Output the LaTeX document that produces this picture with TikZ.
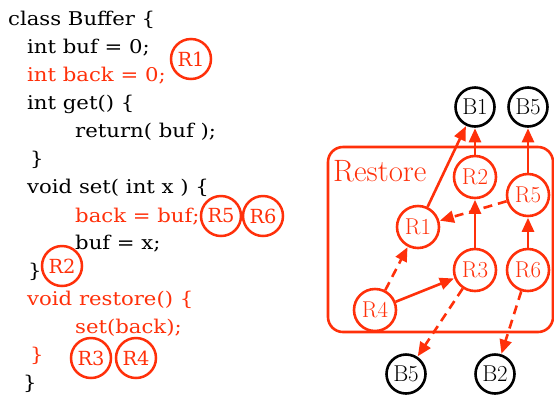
\documentclass[tikz,border=0pt]{standalone}
\usepackage{fontspec}
\usetikzlibrary{arrows.meta}
\newfontfamily\codefont[FakeStretch=1.12]{DejaVu Serif}
\newfontfamily\tagfont{DejaVu Serif}
\definecolor{hot}{RGB}{255,48,10}
\tikzset{
  code/.style={anchor=base west, inner sep=0pt, font=\codefont\fontsize{19}{22}\selectfont},
  hotcode/.style={code, text=hot},
  tag/.style={circle, draw=hot, text=hot, line width=2.5bp, minimum size=40bp, inner sep=0pt,
              font=\tagfont\fontsize{19.5}{22}\selectfont},
  rnode/.style={circle, draw=hot, text=hot, line width=2.6bp, minimum size=42bp, inner sep=0pt,
              font=\fontsize{23}{25}\selectfont},
  bnode/.style={circle, draw=black, line width=2.6bp, minimum size=39bp, inner sep=0pt,
              font=\fontsize{23}{25}\selectfont},
  dep/.style={draw=hot, line width=2.6bp, -{Triangle[length=14bp,width=12bp]}, shorten >=0.5bp},
  weak/.style={dep, dash pattern=on 9bp off 6bp},
}
\begin{document}
\begin{tikzpicture}[x=1bp, y=-1bp]
\useasboundingbox (0,0) rectangle (554,399);

% source listing
\node[code]    (l1)  at (8,25)   {class Buffer \{};
\node[code]    (l2)  at (27,53)  {int buf = 0;};
\node[hotcode] (l3)  at (27,81)  {int back = 0;};
\node[code]    (l4)  at (27,109) {int get() \{};
\node[code]    (l5)  at (75,137) {return( buf );};
\node[code]    (l6)  at (30,165) {\}};
\node[code]    (l7)  at (27,193) {void set( int x ) \{};
\node[hotcode] (l8)  at (75,222) {back = buf;};
\node[code]    (l9)  at (75,249) {buf = x;};
\node[code]    (l10) at (28,277) {\}};
\node[hotcode] (l11) at (27,305) {void restore() \{};
\node[hotcode] (l12) at (75,333) {set(back);};
\node[hotcode] (l13) at (30,361) {\}};
\node[code]    (l14) at (23,389) {\}};

% region tags in the listing
\node[tag] (cR1) at (191,59)  {R1};
\node[tag] (cR5) at (221,216) {R5};
\node[tag] (cR6) at (263,216) {R6};
\node[tag] (cR2) at (62,266)  {R2};
\node[tag] (cR3) at (91,358)  {R3};
\node[tag] (cR4) at (136,358) {R4};

% region graph
\draw[hot, line width=2.6bp, rounded corners=15bp] (328,147) rectangle (553,332);
\node[anchor=base west, inner sep=0pt, text=hot, font=\fontsize{31}{33}\selectfont] (restore) at (333,181) {Restore};

\node[bnode] (B1)  at (475,107) {B1};
\node[bnode] (B5t) at (528,107) {B5};
\node[rnode] (R2)  at (475,177) {R2};
\node[rnode] (R5)  at (528,195) {R5};
\node[rnode] (R1)  at (418,227) {R1};
\node[rnode] (R3)  at (475,270) {R3};
\node[rnode] (R6)  at (528,270) {R6};
\node[rnode] (R4)  at (375,310) {R4};
\node[bnode] (B5b) at (406,374) {B5};
\node[bnode] (B2)  at (495,374) {B2};

\draw[dep]  (R1) -- (B1);
\draw[dep]  (R2) -- (B1);
\draw[dep]  (R5) -- (B5t);
\draw[weak] (R5) -- (R1);
\draw[dep]  (R3) -- (R2);
\draw[dep]  (R6) -- (R5);
\draw[weak] (R4) -- (R1);
\draw[dep]  (R4) -- (R3);
\draw[weak] (R3) -- (B5b);
\draw[weak] (R6) -- (B2);
\end{tikzpicture}
\end{document}
